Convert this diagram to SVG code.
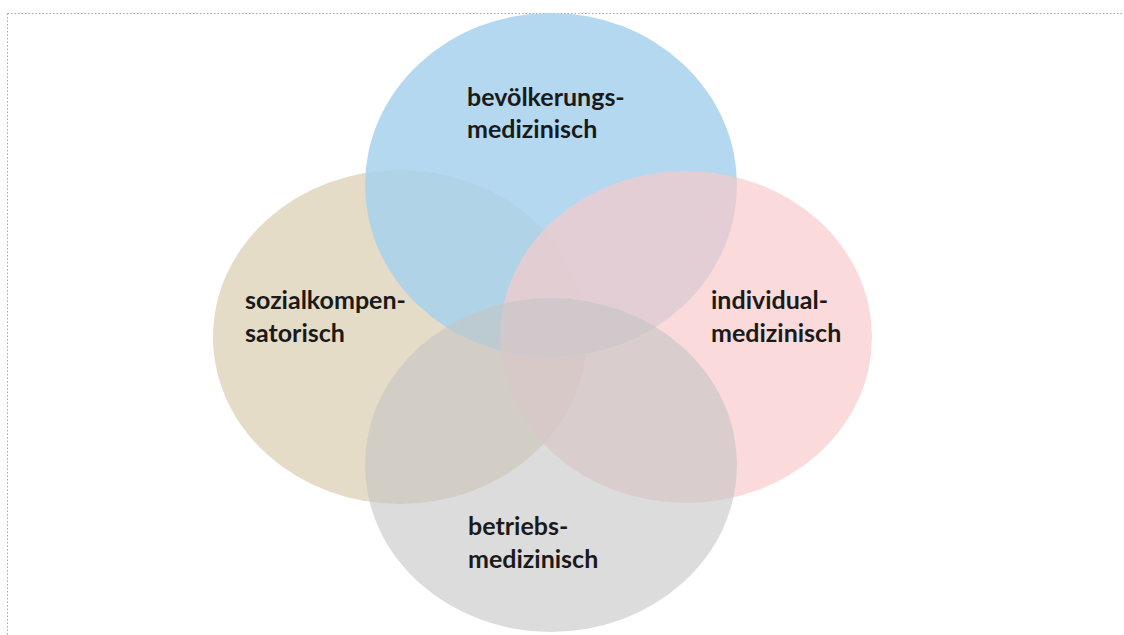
<svg xmlns="http://www.w3.org/2000/svg" width="1124" height="635" viewBox="0 0 1124 635">
<style>
.lbl{font-family:Lato,"Liberation Sans",sans-serif;font-weight:bold;font-size:25px;fill:#1a1a1a}
</style>
<rect x="0" y="0" width="1124" height="635" fill="#ffffff"/>
<rect x="7.5" y="13.5" width="1130" height="640" fill="none" stroke="#a6a6a6" stroke-width="1" stroke-dasharray="1.5,2"/>
<g id="sozial"><ellipse cx="400" cy="337" rx="187" ry="167" fill="#e5dcc8"/></g>
<g id="bevoelkerung"><ellipse cx="551" cy="185" rx="186" ry="172" fill="#a7d1ec" opacity="0.85"/></g>
<g id="individual"><ellipse cx="686" cy="337" rx="186" ry="166" fill="#f8caca" opacity="0.7"/></g>
<g id="betrieb"><ellipse cx="551" cy="465" rx="186" ry="167" fill="#c5c5c5" opacity="0.6"/></g>
<g id="labels">
<text class="lbl" x="467" y="106">bevölkerungs-</text>
<text class="lbl" x="467" y="138">medizinisch</text>
<text class="lbl" x="245" y="309">sozialkompen-</text>
<text class="lbl" x="245" y="342">satorisch</text>
<text class="lbl" x="711" y="309">individual-</text>
<text class="lbl" x="711" y="342">medizinisch</text>
<text class="lbl" x="468" y="535">betriebs-</text>
<text class="lbl" x="468" y="568">medizinisch</text>
</g>
</svg>
